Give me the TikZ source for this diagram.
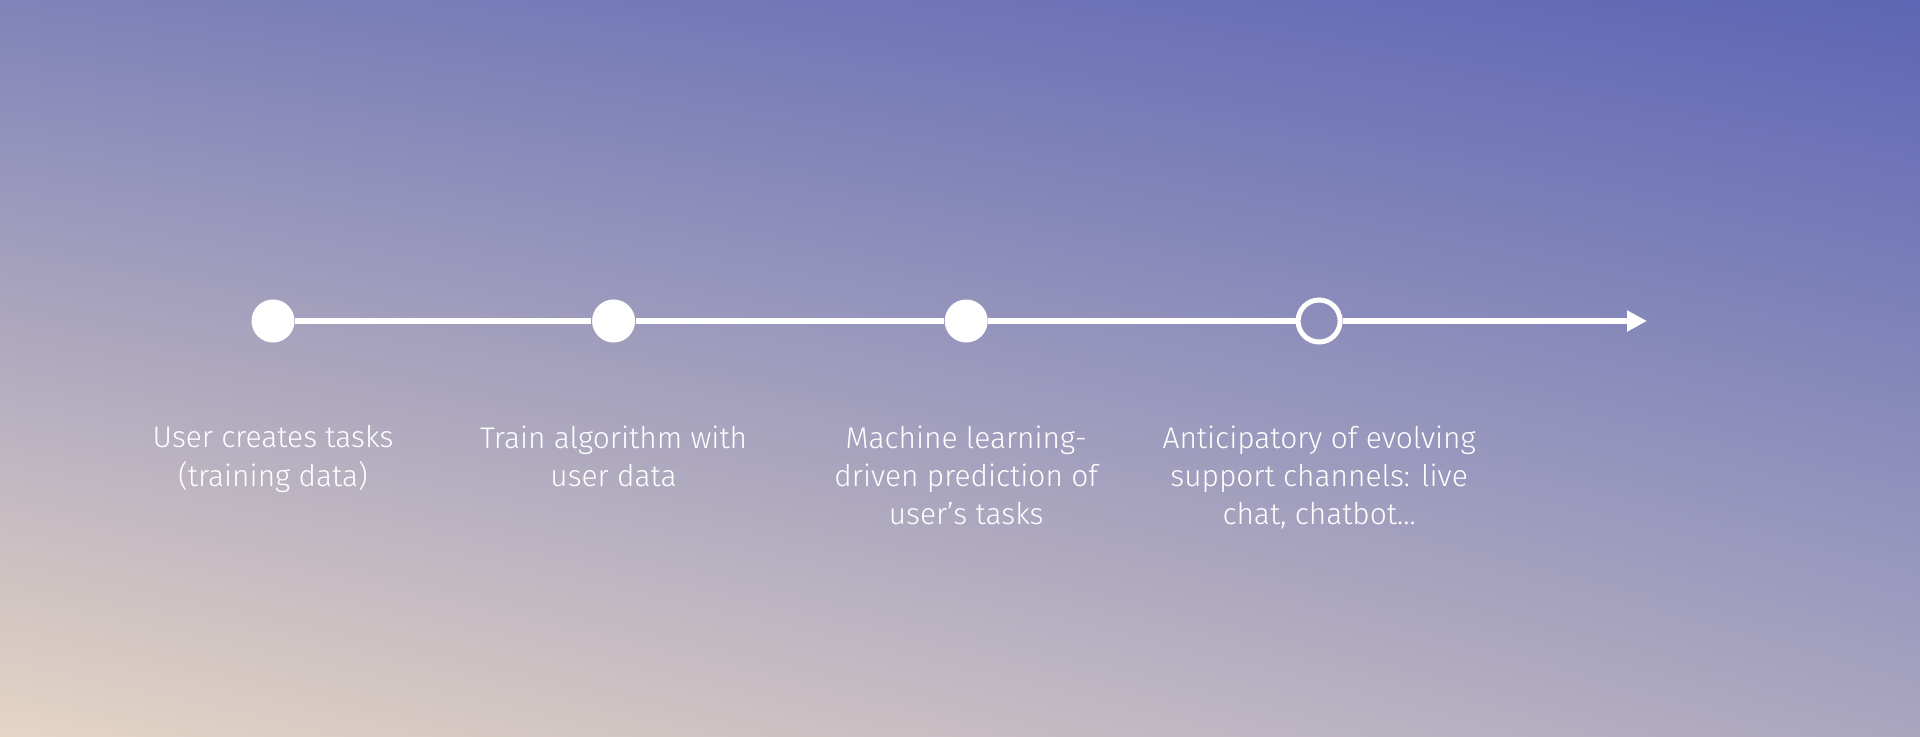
\documentclass[tikz,border=0pt]{standalone}
\usepackage{fontspec}
\setmainfont{Fira Sans}[UprightFont=* Light]
\usetikzlibrary{positioning, arrows.meta, shadings}
\definecolor{skytl}{HTML}{8083B9}
\definecolor{skytr}{HTML}{5D66B4}
\definecolor{skybl}{HTML}{E5D5C5}
\definecolor{skybr}{HTML}{AAA6C0}

\begin{document}
\begin{tikzpicture}
		[x=0.01cm, y=-0.01cm,
		dot/.style={circle, fill=white, inner sep=0pt, minimum size=0.43cm},
		opendot/.style={circle, draw=white, line width=1.42pt, inner sep=0pt, minimum size=0.42cm},
		steptext/.style={text=white, align=center, inner sep=0pt, anchor=north,
			font=\fontsize{8.5}{10.9}\selectfont},
		track/.style={draw=white, line width=1.5pt}]
		% background %
		\useasboundingbox (0,0) rectangle (1920,737);
		\shade[upper left=skytl, upper right=skytr, lower left=skybl, lower right=skybr]
			(0,0) rectangle (1920,737);

		% nodes %
		\node[dot] (d1) at (273,321) {};
		\node[dot, right=2.96cm of d1] (d2) {};
		\node[dot, right=3.08cm of d2] (d3) {};
		\node[opendot, right=3.07cm of d3] (d4) {};
		\coordinate (end) at (1647,321);

		\node[steptext, below=1.04cm of d1.center] (t1) {User creates tasks\\(training data)};
		\node[steptext, below=1.04cm of d2.center] (t2) {Train algorithm with\\user data};
		\node[steptext, below=1.04cm of d3.center] (t3) {Machine learning-\\driven prediction of\\user's tasks};
		\node[steptext, below=1.04cm of d4.center] (t4) {Anticipatory of evolving\\support channels: live\\chat, chatbot...};

		% edges %
		\draw[track] (d1) -- (d2);
		\draw[track] (d2) -- (d3);
		\draw[track] (d3) -- (d4);
		\draw[track, -{Triangle[length=0.2cm, width=0.2cm]}] (d4) -- (end);
\end{tikzpicture}
\end{document}
